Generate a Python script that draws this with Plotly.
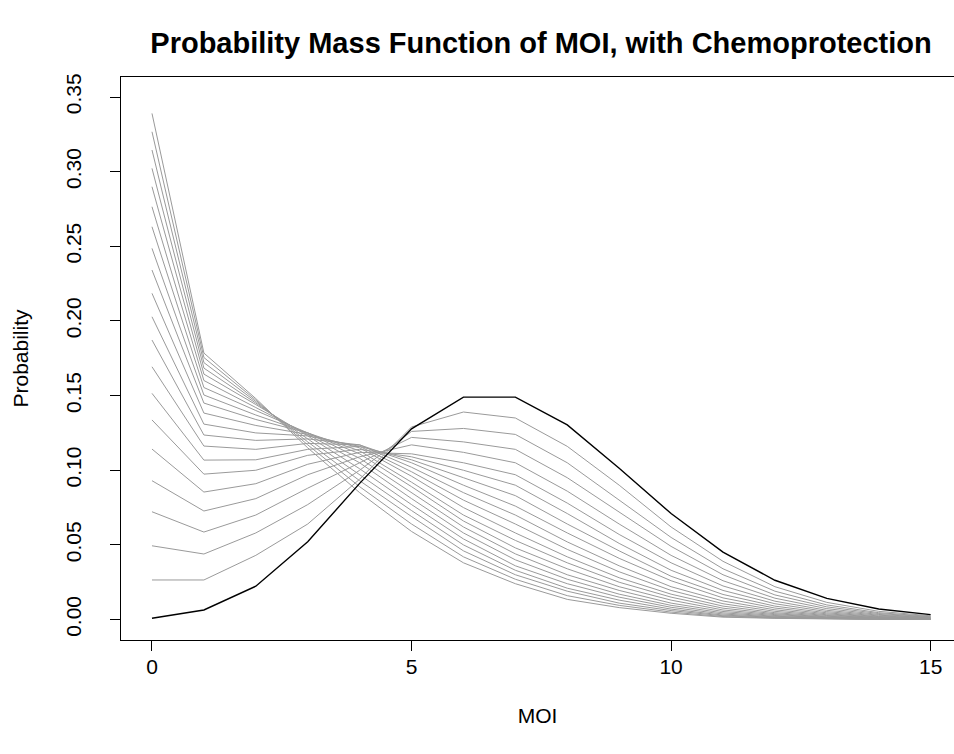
import plotly.graph_objects as go

moi = list(range(16))

# black curve (no chemoprotection)
black_curve = [0.0009, 0.0064, 0.0223, 0.0521, 0.0912, 0.1277, 0.1490, 0.1490,
               0.1304, 0.1014, 0.0710, 0.0452, 0.0263, 0.0142, 0.0071, 0.0033]

# grey curves (with chemoprotection)
g01 = [0.0265, 0.0265, 0.043, 0.064, 0.094, 0.129, 0.139, 0.135, 0.116, 0.090, 0.0620, 0.0390, 0.0220, 0.0115, 0.0055, 0.0025]
g02 = [0.0494, 0.0439, 0.058, 0.077, 0.100, 0.126, 0.128, 0.124, 0.105, 0.080, 0.0550, 0.0340, 0.0190, 0.0098, 0.0046, 0.0021]
g03 = [0.0722, 0.0586, 0.070, 0.088, 0.105, 0.122, 0.119, 0.114, 0.095, 0.072, 0.0490, 0.0300, 0.0165, 0.0085, 0.0040, 0.0018]
g04 = [0.0930, 0.0727, 0.081, 0.097, 0.109, 0.117, 0.112, 0.105, 0.086, 0.064, 0.0430, 0.0260, 0.0143, 0.0073, 0.0034, 0.0015]
g05 = [0.1142, 0.0854, 0.091, 0.104, 0.112, 0.111, 0.105, 0.097, 0.078, 0.057, 0.0380, 0.0225, 0.0123, 0.0062, 0.0029, 0.0013]
g06 = [0.1337, 0.0974, 0.100, 0.110, 0.114, 0.109, 0.100, 0.090, 0.071, 0.051, 0.0330, 0.0195, 0.0106, 0.0053, 0.0024, 0.0011]
g07 = [0.1515, 0.1068, 0.107, 0.114, 0.116, 0.107, 0.095, 0.083, 0.064, 0.046, 0.0290, 0.0168, 0.0090, 0.0045, 0.0020, 0.0009]
g08 = [0.1693, 0.1162, 0.114, 0.118, 0.117, 0.105, 0.090, 0.076, 0.058, 0.041, 0.0260, 0.0145, 0.0077, 0.0038, 0.0017, 0.0007]
g09 = [0.1872, 0.1236, 0.120, 0.121, 0.117, 0.102, 0.085, 0.070, 0.052, 0.036, 0.0220, 0.0124, 0.0065, 0.0032, 0.0014, 0.0006]
g10 = [0.2028, 0.1309, 0.125, 0.123, 0.116, 0.099, 0.080, 0.064, 0.047, 0.032, 0.0195, 0.0106, 0.0055, 0.0027, 0.0012, 0.0005]
g11 = [0.2185, 0.1383, 0.130, 0.124, 0.115, 0.096, 0.075, 0.058, 0.042, 0.028, 0.0170, 0.0090, 0.0046, 0.0022, 0.0010, 0.0004]
g12 = [0.2341, 0.1450, 0.134, 0.125, 0.113, 0.092, 0.070, 0.053, 0.038, 0.025, 0.0150, 0.0076, 0.0039, 0.0018, 0.0008, 0.0004]
g13 = [0.2486, 0.1504, 0.137, 0.125, 0.111, 0.089, 0.066, 0.048, 0.034, 0.022, 0.0130, 0.0064, 0.0033, 0.0015, 0.0007, 0.0003]
g14 = [0.2631, 0.1554, 0.140, 0.125, 0.108, 0.085, 0.062, 0.044, 0.030, 0.0195, 0.0110, 0.0054, 0.0027, 0.0013, 0.0006, 0.0002]
g15 = [0.2765, 0.1601, 0.142, 0.124, 0.105, 0.081, 0.058, 0.040, 0.027, 0.0170, 0.0095, 0.0045, 0.0022, 0.0010, 0.0005, 0.0002]
g16 = [0.2899, 0.1644, 0.144, 0.123, 0.101, 0.077, 0.054, 0.036, 0.024, 0.0150, 0.0082, 0.0037, 0.0018, 0.0008, 0.0004, 0.0002]
g17 = [0.3022, 0.1684, 0.145, 0.121, 0.097, 0.073, 0.050, 0.033, 0.021, 0.0130, 0.0070, 0.0030, 0.0015, 0.0007, 0.0003, 0.0001]
g18 = [0.3145, 0.1721, 0.146, 0.119, 0.093, 0.069, 0.046, 0.030, 0.019, 0.0110, 0.0060, 0.0025, 0.0012, 0.0005, 0.0002, 0.0001]
g19 = [0.3267, 0.1755, 0.147, 0.117, 0.089, 0.064, 0.042, 0.027, 0.016, 0.0095, 0.0050, 0.0020, 0.0010, 0.0004, 0.0002, 0.0001]
g20 = [0.3390, 0.1785, 0.148, 0.115, 0.085, 0.059, 0.038, 0.024, 0.0135, 0.0080, 0.0042, 0.0016, 0.0008, 0.0003, 0.0001, 0.0001]

grey_curves = [g01, g02, g03, g04, g05, g06, g07, g08, g09, g10,
               g11, g12, g13, g14, g15, g16, g17, g18, g19, g20]

x_ticks = [0, 5, 10, 15]
y_ticks = [0.00, 0.05, 0.10, 0.15, 0.20, 0.25, 0.30, 0.35]
y_tick_text = ["0.00", "0.05", "0.10", "0.15", "0.20", "0.25", "0.30", "0.35"]

FONT = "Liberation Sans, Arial, Helvetica, sans-serif"

fig = go.Figure()
for ys in grey_curves:
    fig.add_trace(go.Scatter(x=moi, y=ys, mode="lines",
                             line=dict(color="#9a9a9a", width=1),
                             showlegend=False, hoverinfo="skip"))
fig.add_trace(go.Scatter(x=moi, y=black_curve, mode="lines",
                         line=dict(color="#000000", width=1.4),
                         showlegend=False, hoverinfo="skip"))

fig.update_layout(
    width=954, height=754,
    margin=dict(l=121, r=0, t=77, b=114),
    paper_bgcolor="white", plot_bgcolor="white",
    font=dict(family=FONT, size=21, color="black"),
    title=dict(text="<b>Probability Mass Function of MOI, with Chemoprotection</b>",
               x=541 / 954, xref="container", xanchor="center",
               y=1 - 43 / 754, yref="container", yanchor="middle",
               font=dict(family=FONT, size=29, color="black")),
)
fig.update_xaxes(range=[-0.597, 15.45], tickvals=x_ticks, ticktext=[str(t) for t in x_ticks],
                 showgrid=False, zeroline=False, showline=True, linecolor="black", linewidth=1,
                 mirror=True, ticks="outside", ticklen=10, tickcolor="black",
                 ticklabelstandoff=-2,
                 title=dict(text="MOI", standoff=31, font=dict(size=21)))
fig.update_yaxes(range=[-0.0137, 0.3634], tickvals=y_ticks, ticktext=y_tick_text,
                 tickangle=-90,
                 showgrid=False, zeroline=False, showline=True, linecolor="black", linewidth=1,
                 ticks="outside", ticklen=10, tickcolor="black",
                 ticklabelstandoff=21,
                 title=dict(text="Probability", standoff=27, font=dict(size=21)))

fig.write_html("out.html")
